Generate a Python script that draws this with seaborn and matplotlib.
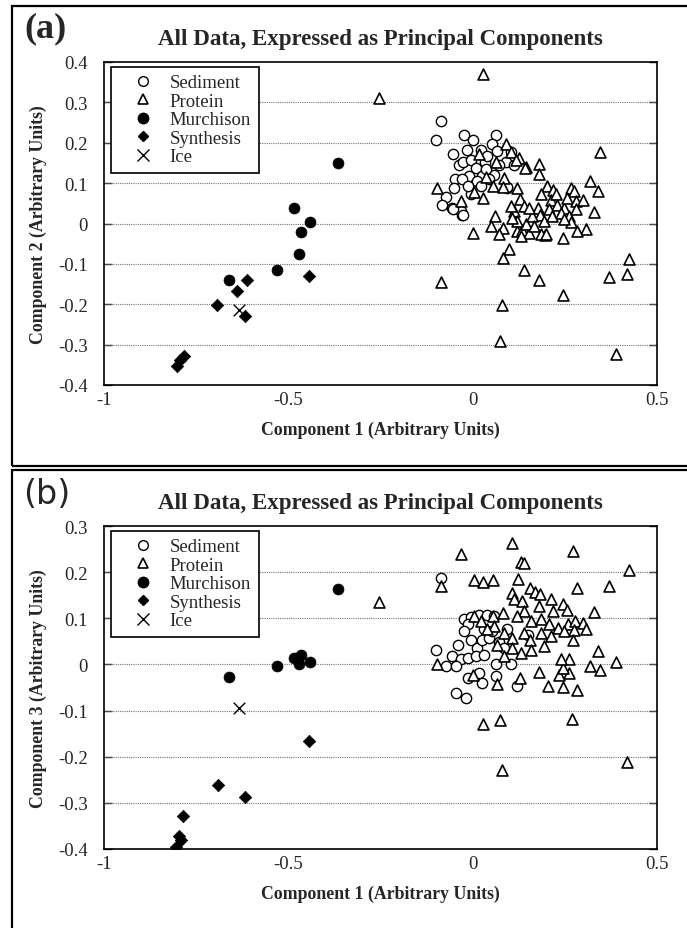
import seaborn as sns
import matplotlib.pyplot as plt
from matplotlib.patches import Rectangle
from matplotlib.lines import Line2D

# ---- data ----
# panel (a): component 1 vs component 2
sed_x_a = [-0.087, -0.099, -0.024, 0.0, 0.063, 0.053, 0.022, -0.016, -0.054, -0.036,
           -0.025, -0.005, 0.033, 0.067, 0.105, 0.090, 0.112, 0.010, 0.058, 0.024,
           -0.010, -0.047, -0.030, 0.013, 0.044, 0.094, -0.051, -0.073, -0.082, -0.055,
           -0.028, -0.033, -0.005, 0.022, -0.013, 0.035, 0.072, 0.040, 0.094, -0.025, -0.053]
sed_y_a = [0.254, 0.206, 0.219, 0.206, 0.219, 0.196, 0.183, 0.181, 0.172, 0.146,
           0.152, 0.158, 0.152, 0.179, 0.177, 0.152, 0.146, 0.138, 0.121, 0.117,
           0.117, 0.109, 0.109, 0.105, 0.109, 0.088, 0.088, 0.066, 0.047, 0.039,
           0.022, 0.031, 0.072, 0.092, 0.092, 0.134, 0.146, 0.167, 0.090, 0.021, 0.036]

prot_x_a = [0.027, -0.253, 0.346, -0.098, 0.0, -0.085, 0.079, 0.074, 0.389, 0.423,
            0.418, 0.370, 0.245, 0.180, 0.139, 0.098, 0.082, 0.319, 0.339, 0.329,
            0.307, 0.283, 0.179, 0.179, 0.145, 0.090, 0.104, 0.125, 0.246, 0.195,
            0.017, 0.064, 0.085, 0.056, 0.028, 0.004, -0.033, 0.119, 0.128, 0.139,
            0.111, 0.061, 0.049, 0.083, 0.072, 0.121, 0.135, 0.153, 0.185, 0.198,
            0.176, 0.182, 0.158, 0.144, 0.194, 0.201, 0.219, 0.185, 0.212, 0.230,
            0.248, 0.266, 0.275, 0.257, 0.280, 0.298, 0.239, 0.262, 0.280, 0.268,
            0.248, 0.207, 0.216, 0.162, 0.153, 0.121, 0.108, 0.103, 0.142, 0.117,
            0.035, 0.082, 0.226, 0.167, 0.130]
prot_y_a = [0.371, 0.311, 0.176, 0.087, -0.023, -0.144, -0.202, -0.292, -0.323, -0.087,
            -0.126, -0.132, -0.178, -0.141, -0.116, -0.063, -0.086, 0.105, 0.080, 0.028,
            -0.013, -0.018, 0.148, 0.122, 0.140, 0.196, 0.178, 0.161, -0.035, -0.029,
            0.172, 0.152, 0.113, 0.092, 0.064, 0.078, 0.055, 0.087, 0.061, 0.043,
            0.031, 0.018, -0.005, -0.011, -0.027, -0.019, -0.017, -0.023, -0.027, -0.027,
            0.039, 0.022, 0.006, -0.002, 0.006, 0.092, 0.084, 0.072, 0.059, 0.047,
            0.039, 0.088, 0.080, 0.064, 0.055, 0.059, 0.026, 0.018, 0.035, 0.003,
            0.010, 0.035, 0.018, 0.018, 0.039, 0.006, 0.014, 0.043, 0.138, 0.158,
            0.116, 0.091, 0.072, -0.007, -0.031]

murch_x = [-0.365, -0.485, -0.441, -0.465, -0.471, -0.532, -0.662]
murch_y_a = [0.151, 0.038, 0.003, -0.021, -0.076, -0.115, -0.141]

synth_x_a = [-0.443, -0.612, -0.639, -0.693, -0.618, -0.784, -0.795, -0.802]
synth_y_a = [-0.131, -0.139, -0.166, -0.203, -0.230, -0.328, -0.338, -0.352]

ice_x = [-0.634]
ice_y_a = [-0.215]

# panel (b): component 1 vs component 3
sed_x_b = [-0.087, -0.099, -0.039, -0.024, -0.004, 0.017, 0.038, 0.058, -0.013, -0.024,
           -0.004, 0.013, 0.026, 0.044, 0.031, 0.053, 0.072, 0.094, -0.055, -0.033,
           -0.014, 0.008, 0.031, 0.062, 0.103, -0.073, -0.046, -0.014, 0.017, 0.062,
           0.120, -0.046, -0.019, 0.026, 0.149, 0.085]
sed_y_b = [0.187, 0.031, 0.043, 0.098, 0.103, 0.108, 0.108, 0.105, 0.087, 0.072,
           0.054, 0.036, 0.054, 0.058, 0.076, 0.072, 0.048, 0.076, 0.018, 0.011,
           0.014, 0.018, 0.020, 0.002, 0.002, -0.004, -0.004, -0.029, -0.018, -0.025,
           -0.047, -0.061, -0.072, -0.040, 0.063, 0.036]

prot_x_b = [0.108, 0.271, -0.033, 0.130, 0.139, 0.423, -0.254, -0.086, 0.004, 0.028,
            0.055, 0.124, 0.284, 0.370, 0.329, 0.339, 0.389, 0.319, 0.346, 0.180,
            0.203, 0.244, 0.282, 0.260, 0.234, 0.244, 0.260, 0.239, 0.028, 0.074,
            0.269, 0.418, 0.079, 0.128, 0.065, -0.098, 0.002,
            0.156, 0.169, 0.182, 0.108, 0.111, 0.135, 0.212, 0.244, 0.257, 0.180,
            0.219, 0.139, 0.083, 0.055, 0.004, 0.022, 0.121, 0.158, 0.185, 0.207,
            0.232, 0.259, 0.277, 0.300, 0.307, 0.275, 0.248, 0.058, 0.085, 0.108,
            0.139, 0.156, 0.185, 0.212, 0.194, 0.158, 0.132, 0.108, 0.067, 0.085,
            0.271, 0.040]
prot_y_b = [0.264, 0.246, 0.239, 0.221, 0.219, 0.204, 0.136, 0.170, 0.184, 0.179,
            0.184, 0.186, 0.166, 0.171, 0.114, 0.030, 0.005, -0.004, -0.012, -0.016,
            -0.047, -0.049, -0.056, -0.018, -0.022, -0.007, 0.012, 0.011, -0.129, -0.121,
            -0.119, -0.211, -0.229, -0.029, -0.043, 0.001, -0.022,
            0.165, 0.158, 0.152, 0.155, 0.141, 0.137, 0.142, 0.130, 0.119, 0.127,
            0.116, 0.116, 0.112, 0.106, 0.105, 0.094, 0.105, 0.094, 0.098, 0.087,
            0.080, 0.087, 0.094, 0.089, 0.077, 0.074, 0.072, 0.083, 0.069, 0.058,
            0.069, 0.054, 0.069, 0.061, 0.040, 0.031, 0.024, 0.036, 0.043, 0.018,
            0.054, 0.076]

murch_y_b = [0.164, 0.013, 0.005, 0.020, 0.002, -0.003, -0.027]
synth_x_b = [-0.443, -0.692, -0.618, -0.785, -0.797, -0.790, -0.805]
synth_y_b = [-0.165, -0.262, -0.288, -0.328, -0.371, -0.380, -0.395]
ice_y_b = [-0.094]

y_ticks_a = [-0.4, -0.3, -0.2, -0.1, 0, 0.1, 0.2, 0.3, 0.4]
y_ticks_b = [-0.4, -0.3, -0.2, -0.1, 0, 0.1, 0.2, 0.3]
x_ticks = [-1, -0.5, 0, 0.5]

title = 'All Data, Expressed as Principal Components'

sns.set_style('white')
plt.rcParams['font.family'] = ['Liberation Serif', 'DejaVu Serif']

fig = plt.figure(figsize=(6.87, 9.29), dpi=100)
W, H = 687, 929


def px_axes(left, top, right, bottom):
    return fig.add_axes([left / W, 1 - bottom / H, (right - left) / W, (bottom - top) / H])


def fmt(v):
    if v == 0:
        return '0'
    if v == int(v):
        return str(int(v))
    return ('%g' % v)


def panel(ax, sx, sy, px_, py_, mx, my, snx, sny, ix, iy, yticks, ylabel):
    sns.scatterplot(x=sx, y=sy, ax=ax, marker='o', s=55, facecolor='white',
                    edgecolor='black', linewidth=1.0, label='Sediment', zorder=3)
    sns.scatterplot(x=px_, y=py_, ax=ax, marker='^', s=62, facecolor='white',
                    edgecolor='black', linewidth=1.2, label='Protein', zorder=4)
    sns.scatterplot(x=mx, y=my, ax=ax, marker='o', s=62, color='black',
                    edgecolor='black', linewidth=0.5, label='Murchison', zorder=4)
    sns.scatterplot(x=snx, y=sny, ax=ax, marker='D', s=40, color='black',
                    edgecolor='black', linewidth=0.5, label='Synthesis', zorder=4)
    sns.scatterplot(x=ix, y=iy, ax=ax, marker='x', s=70, color='black',
                    linewidth=1.0, label='Ice', zorder=4)

    ax.set_xlim(-1, 0.5)
    ax.set_ylim(yticks[0], yticks[-1])
    ax.set_xticks(x_ticks)
    ax.set_xticklabels([fmt(v) for v in x_ticks])
    ax.set_yticks(yticks)
    ax.set_yticklabels([fmt(v) for v in yticks])
    ax.tick_params(axis='y', direction='in', length=6, width=1, left=True, right=True,
                   labelsize=13.5, pad=11.5)
    ax.tick_params(axis='x', length=0, labelsize=13.5, pad=4)
    for yv in yticks[1:-1]:
        ax.axhline(yv, color='0.45', linestyle=(0, (1, 1)), linewidth=0.8, zorder=1)
    for sp in ax.spines.values():
        sp.set_color('black')
        sp.set_linewidth(1.2)
    ax.set_xlabel('Component 1 (Arbitrary Units)', fontsize=12.8, fontweight='bold')
    ax.set_ylabel(ylabel, fontsize=12.8, fontweight='bold')
    ax.xaxis.set_label_coords(0.5, -0.111)
    ax.yaxis.set_label_coords(-0.103, 0.5)
    ax.set_title(title, fontsize=16.5, fontweight='bold', pad=13)

    handles = [
        Line2D([], [], marker='o', ls='', ms=7, mfc='white', mec='black', mew=1.0),
        Line2D([], [], marker='^', ls='', ms=7, mfc='white', mec='black', mew=1.2),
        Line2D([], [], marker='o', ls='', ms=7.5, mfc='black', mec='black'),
        Line2D([], [], marker='D', ls='', ms=5.5, mfc='black', mec='black'),
        Line2D([], [], marker='x', ls='', ms=8, mec='black', mew=1.0),
    ]
    leg = ax.legend(handles, ['Sediment', 'Protein', 'Murchison', 'Synthesis', 'Ice'],
                    loc='upper left', bbox_to_anchor=(0.012, 0.985), fontsize=13.5,
                    frameon=True, fancybox=False, edgecolor='black', framealpha=1,
                    borderpad=0.4, labelspacing=0.07, handletextpad=0.15,
                    handlelength=2.6, borderaxespad=0)
    leg.get_frame().set_linewidth(1.2)


ax_a = px_axes(104, 63, 657, 386)
panel(ax_a, sed_x_a, sed_y_a, prot_x_a, prot_y_a, murch_x, murch_y_a,
      synth_x_a, synth_y_a, ice_x, ice_y_a, y_ticks_a, 'Component 2 (Arbitrary Units)')

ax_b = px_axes(104, 527, 657, 850)
panel(ax_b, sed_x_b, sed_y_b, prot_x_b, prot_y_b, murch_x, murch_y_b,
      synth_x_b, synth_y_b, ice_x, ice_y_b, y_ticks_b, 'Component 3 (Arbitrary Units)')

# panel frames
fig.add_artist(Rectangle((12 / W, 1 - 467 / H), 1.0, 460 / H, transform=fig.transFigure,
                         fill=False, edgecolor='black', linewidth=1.6))
fig.add_artist(Rectangle((12 / W, -0.05), 1.0, 0.05 + 1 - 471 / H, transform=fig.transFigure,
                         fill=False, edgecolor='black', linewidth=1.6))

fig.text(45 / W, 1 - 29 / H, '(a)', fontsize=26, fontweight='bold', ha='center', va='center')
fig.text(47 / W, 1 - 495 / H, '(b)', fontsize=24, family='DejaVu Sans', ha='center', va='center')

fig.savefig('out.png', dpi=100)
